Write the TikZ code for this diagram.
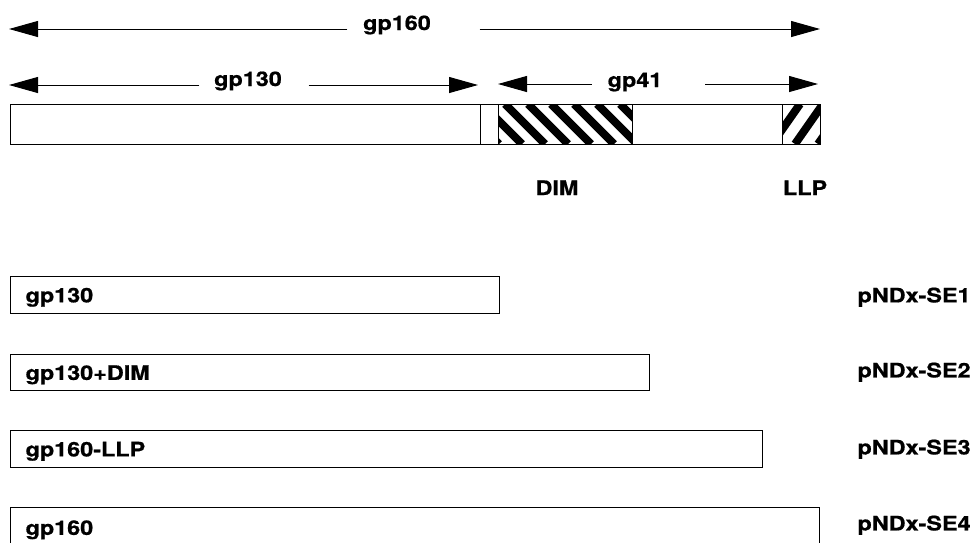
\documentclass[tikz,border=0pt]{standalone}
\usepackage{fontspec}
\setmainfont{TeX Gyre Heros}[FakeStretch=1.17,FakeBold=0.8]
\usetikzlibrary{arrows.meta,positioning}

\begin{document}
\begin{tikzpicture}[x=1pt,y=-1pt,line width=1pt,
  every node/.style={font=\bfseries\fontsize{20}{23}\selectfont},
  span/.style={-{Triangle[length=29pt,width=16pt]}},
  bar/.style={draw,line width=1.2pt,anchor=north west,minimum height=37pt,
    inner xsep=15pt,align=left,text depth=0pt},
  vec/.style={anchor=west,text depth=0pt,inner xsep=0pt}]
\useasboundingbox (0,0) rectangle (977,542);
\clip (0,0) rectangle (977,542);
% spans over the precursor
\node[anchor=base] (n160) at (397,30) {gp160};
\node[anchor=base] (n130) at (248,86) {gp130};
\node[anchor=base] (n41) at (635,87) {gp41};
\coordinate (a160l) at (9,29); \coordinate (a160r) at (820,29);
\coordinate (a130l) at (9,85); \coordinate (a130r) at (478,85);
\coordinate (a41l) at (498,84); \coordinate (a41r) at (818,84);
\draw[span] ([xshift=-12pt]n160.west |- a160l) -- (a160l);
\draw[span] ([xshift=45pt]n160.east |- a160r) -- (a160r);
\draw[span] ([xshift=-11pt]n130.west |- a130l) -- (a130l);
\draw[span] ([xshift=23pt]n130.east |- a130r) -- (a130r);
\draw[span] ([xshift=-12pt]n41.west |- a41l) -- (a41l);
\draw[span] ([xshift=39pt]n41.east |- a41r) -- (a41r);
% precursor bar
\begin{scope}
\clip (498,104) rectangle (632,144);
\foreach \x in {459,482,...,660} \draw[line width=8pt] (\x,104) -- (\x+40,144);
\end{scope}
\begin{scope}
\clip (782,104) rectangle (820,144);
\foreach \x in {772,795,...,860} \draw[line width=8pt] (\x,144) -- (\x+28,104);
\end{scope}
\draw (10,104) rectangle (480,144);
\draw (480,104) rectangle (498,144);
\draw (498,104) rectangle (632,144);
\draw (632,104) rectangle (782,144);
\draw (782,104) rectangle (820,144);
\node[anchor=base] (dim) at (557,195) {DIM};
\node[anchor=base] (llp) at (805,195) {LLP};
% constructs
\node[bar,text width=459pt] (se1) at (10,276) {gp130};
\node[bar,text width=609pt,minimum height=36pt] (se2) at (10,354) {gp130+DIM};
\node[bar,text width=722pt] (se3) at (10,430) {gp160-LLP};
\node[bar,text width=779pt,minimum height=40pt] (se4) at (10,507) {gp160};
\node[vec] (p1) at (857,295) {pNDx-SE1};
\node[vec] (p2) at (857,370) {pNDx-SE2};
\node[vec] (p3) at (857,447) {pNDx-SE3};
\node[vec] (p4) at (857,523) {pNDx-SE4};
\end{tikzpicture}
\end{document}
